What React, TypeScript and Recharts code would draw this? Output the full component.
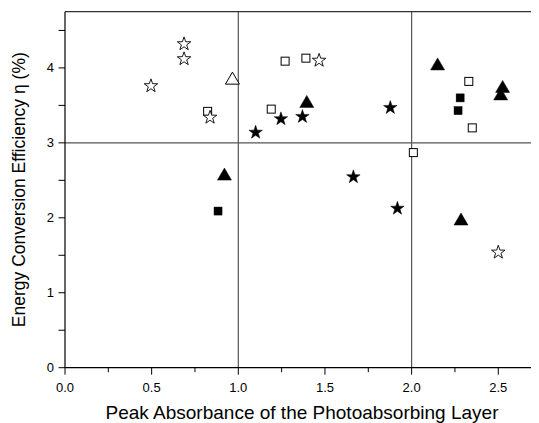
import React from 'react';
import { ScatterChart, Scatter, XAxis, YAxis, ReferenceLine } from 'recharts';

const openStarX = [0.687, 0.687, 0.496, 0.837, 1.466, 2.5];
const openStarY = [4.33, 4.13, 3.77, 3.35, 4.11, 1.55];
const filledStarX = [1.1, 1.246, 1.37, 1.877, 1.664, 1.918];
const filledStarY = [3.15, 3.33, 3.36, 3.48, 2.556, 2.136];
const openSquareX = [0.823, 1.19, 1.27, 1.39, 2.01, 2.33, 2.35];
const openSquareY = [3.42, 3.45, 4.09, 4.13, 2.87, 3.82, 3.2];
const filledSquareX = [0.883, 2.28, 2.268];
const filledSquareY = [2.09, 3.6, 3.43];
const openTriangleX = [0.966];
const openTriangleY = [3.85];
const filledTriangleX = [0.92, 1.395, 2.15, 2.285, 2.525, 2.514];
const filledTriangleY = [2.57, 3.54, 4.04, 1.97, 3.74, 3.64];

const xTicks = [0, 0.25, 0.5, 0.75, 1, 1.25, 1.5, 1.75, 2, 2.25, 2.5];
const yTicks = [0, 0.5, 1, 1.5, 2, 2.5, 3, 3.5, 4, 4.5];

const zip = (xs: number[], ys: number[]) => xs.map((x, i) => ({ x, y: ys[i] }));

const starPath = (cx: number, cy: number, R: number, r: number) => {
  let d = '';
  for (let i = 0; i < 10; i++) {
    const rad = i % 2 === 0 ? R : r;
    const a = -Math.PI / 2 + (i * Math.PI) / 5;
    d += (i === 0 ? 'M' : 'L') + (cx + rad * Math.cos(a)).toFixed(2) + ',' + (cy + rad * Math.sin(a)).toFixed(2);
  }
  return d + 'Z';
};

const makeStar = (filled: boolean) => (p: any) => (
  <path d={starPath(p.cx, p.cy + 0.8, 7.1, 2.8)} fill={filled ? '#000' : '#fff'} stroke="#000" strokeWidth={filled ? 0.5 : 0.9} />
);
const makeSquare = (filled: boolean) => (p: any) => (
  <rect x={p.cx - 4} y={p.cy - 4} width={8} height={8} fill={filled ? '#000' : '#fff'} stroke="#000" strokeWidth={filled ? 0.5 : 1} />
);
const makeTriangle = (filled: boolean) => (p: any) => (
  <path d={`M${p.cx},${p.cy - 7}L${p.cx + 7},${p.cy + 5}L${p.cx - 7},${p.cy + 5}Z`} fill={filled ? '#000' : '#fff'} stroke="#000" strokeWidth={filled ? 0.5 : 1} />
);

const isMajor = (v: number) => Math.abs(v * 2 - Math.round(v * 2)) < 1e-6;

const font = 'Liberation Sans, Arial, sans-serif';

const XTick = (p: any) => {
  const v = p.payload.value;
  const major = isMajor(v);
  return (
    <g>
      <line x1={p.x} x2={p.x} y1={p.y} y2={p.y + (major ? 7 : 4.5)} stroke="#000" strokeWidth={1} />
      {major && (
        <text x={p.x} y={p.y + 24.5} textAnchor="middle" fontSize={13} fill="#000" fontFamily={font}>
          {v.toFixed(1)}
        </text>
      )}
    </g>
  );
};

const YTick = (p: any) => {
  const v = p.payload.value;
  const major = Number.isInteger(v);
  return (
    <g>
      <line x1={p.x - 6.5} x2={p.x} y1={p.y} y2={p.y} stroke="#000" strokeWidth={1} />
      {major && (
        <text x={p.x - 11} y={p.y + 4.5} textAnchor="end" fontSize={13} fill="#000" fontFamily={font}>
          {String(v)}
        </text>
      )}
    </g>
  );
};

export default function App() {
  return (
    <ScatterChart width={531} height={415} margin={{ top: 3.7, right: 0, bottom: 5.3, left: 0 }} style={{ fontFamily: font }}>
      <XAxis
        type="number"
        dataKey="x"
        domain={[0, 2.735]}
        ticks={xTicks}
        allowDataOverflow
        tickSize={0}
        tickMargin={0}
        tickLine={false}
        tick={<XTick />}
        interval={0}
        height={50}
        axisLine={{ stroke: '#000', strokeWidth: 1.2 }}
        label={{
          content: (props: any) => {
            const vb = props.viewBox;
            return (
              <text x={vb.x + vb.width / 2} y={vb.y + 51} textAnchor="middle" fontSize={19} fill="#000" fontFamily={font}>
                Peak Absorbance of the Photoabsorbing Layer
              </text>
            );
          },
        }}
      />
      <YAxis
        type="number"
        dataKey="y"
        domain={[0, 4.75]}
        ticks={yTicks}
        allowDataOverflow
        tickSize={0}
        tickMargin={0}
        tickLine={false}
        tick={<YTick />}
        interval={0}
        width={57}
        axisLine={{ stroke: '#000', strokeWidth: 1.2 }}
        label={{
          content: (props: any) => {
            const vb = props.viewBox;
            const cx = 17;
            const cy = vb.y + vb.height / 2;
            return (
              <text x={cx} y={cy} transform={`rotate(-90 ${cx} ${cy})`} textAnchor="middle" fontSize={17.5} fill="#000" fontFamily={font}>
                Energy Conversion Efficiency η (%)
              </text>
            );
          },
        }}
      />
      <ReferenceLine x={1} stroke="#555" strokeWidth={1.2} />
      <ReferenceLine x={2} stroke="#555" strokeWidth={1.2} />
      <ReferenceLine y={3} stroke="#555" strokeWidth={1.2} />
      <ReferenceLine y={4.75} stroke="#333" strokeWidth={1.2} />
      <Scatter data={zip(openSquareX, openSquareY)} shape={makeSquare(false)} isAnimationActive={false} />
      <Scatter data={zip(filledSquareX, filledSquareY)} shape={makeSquare(true)} isAnimationActive={false} />
      <Scatter data={zip(openTriangleX, openTriangleY)} shape={makeTriangle(false)} isAnimationActive={false} />
      <Scatter data={zip(filledTriangleX, filledTriangleY)} shape={makeTriangle(true)} isAnimationActive={false} />
      <Scatter data={zip(openStarX, openStarY)} shape={makeStar(false)} isAnimationActive={false} />
      <Scatter data={zip(filledStarX, filledStarY)} shape={makeStar(true)} isAnimationActive={false} />
    </ScatterChart>
  );
}
